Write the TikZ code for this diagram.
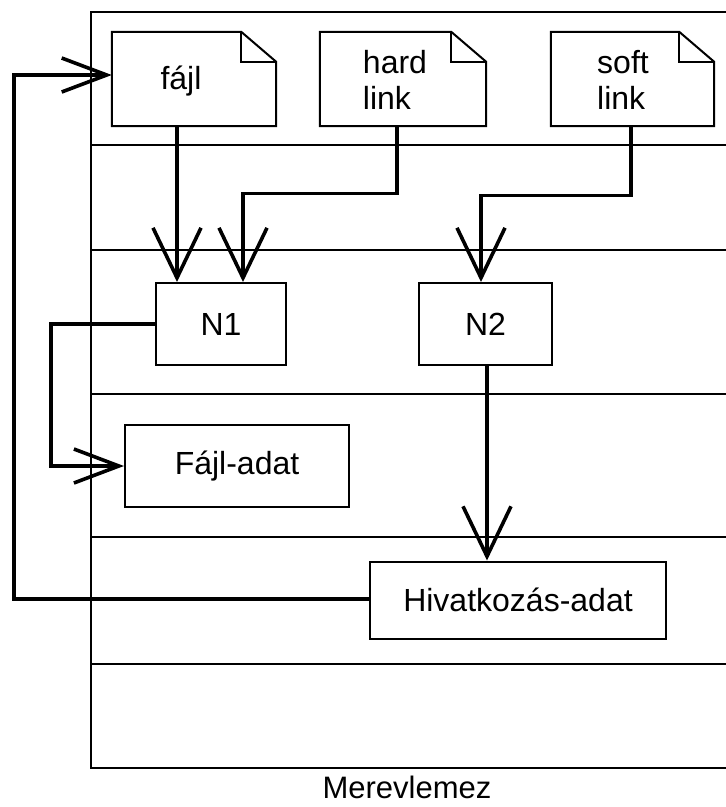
\documentclass[tikz,border=0pt]{standalone}
\usepackage{fontspec}
\setmainfont{Liberation Sans}
\usetikzlibrary{arrows.meta,calc}
\newcommand\drawdoc[1]{%
  \draw[boxline] (#1.north west) -- ($(#1.north east)+(-35,0)$) -- ($(#1.north east)+(0,30)$)
    -- (#1.south east) -- (#1.south west) -- cycle;
  \draw[boxline] ($(#1.north east)+(-35,0)$) -- ($(#1.north east)+(-35,30)$) -- ($(#1.north east)+(0,30)$);}
\begin{document}
\begin{tikzpicture}[x=1pt,y=-1pt,
  conn/.style={line width=3.2pt},
  varr/.style={conn,-{Straight Barb[length=50pt,width=48pt,line width=3.6pt]}},
  harr/.style={conn,-{Straight Barb[length=45pt,width=34pt,line width=3.6pt]}},
  boxline/.style={line width=2pt,line join=miter},
  layer/.style={line width=1.6pt},
  txt/.style={font=\fontsize{32}{36}\selectfont},
  box/.style={draw,boxline,inner sep=0pt,txt},
  doc/.style={inner sep=0pt}]
\useasboundingbox (0,0) rectangle (726,807);
% disk frame and layers
\draw[layer] (726,12) -- (91,12) -- (91,768) -- (726,768);
\foreach \y in {145,250,394,537,664} \draw[layer] (91,\y) -- (726,\y);
% documents
\node[doc,minimum width=164pt,minimum height=94pt] (fajl) at (194,79) {};
\node[doc,minimum width=166pt,minimum height=94pt] (hard) at (403,79) {};
\node[doc,minimum width=163pt,minimum height=94pt] (soft) at (632.5,79) {};
\drawdoc{fajl}\drawdoc{hard}\drawdoc{soft}
\node[txt] (fajlt) at (181,81) {fájl};
\node[txt,align=left] (hardt) at (395,80) {hard\\link};
\node[txt,align=left] (softt) at (623,80) {soft\\link};
% boxes
\node[box,minimum width=130pt,minimum height=82pt] (n1) at (221,324) {N1};
\node[box,minimum width=133pt,minimum height=82pt] (n2) at (485.5,324) {N2};
\node[box,minimum width=224pt,minimum height=82pt] (adat) at (237,466) {Fájl-adat};
\node[box,minimum width=296pt,minimum height=77pt] (hiv) at (518,600) {Hivatkozás-adat};
\node[txt,font=\fontsize{31}{36}\selectfont] (disk) at (407,787) {Merevlemez};
% connectors
\draw[varr] ([xshift=-17pt]fajl.south) -- ([xshift=-17pt]fajl.south |- n1.north);
\draw[varr] ([xshift=-6pt]hard.south) -- ++(0,67) -| ([xshift=22pt]n1.north);
\draw[varr] ([xshift=-1.5pt]soft.south) -- ++(0,69) -| ([xshift=-4.5pt]n2.north);
\draw[harr] (n1.west) -- ++(-104,0) |- (adat.west);
\draw[varr] ([xshift=1.5pt]n2.south) -- ([xshift=1.5pt]n2.south |- hiv.north);
\draw[harr] ([yshift=1pt]hiv.west) -- ++(-355,0) |- ([yshift=4pt]fajl.west);
\end{tikzpicture}
\end{document}
